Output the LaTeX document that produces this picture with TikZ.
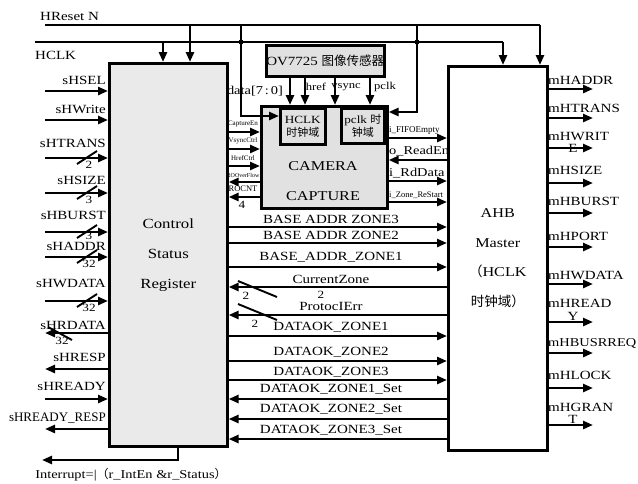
\documentclass[tikz,border=0pt]{standalone}
\usepackage{fontspec}
\setmainfont{Liberation Serif}[FakeStretch=1.2]
\newfontfamily\thinfont{Liberation Serif}
\newfontfamily\cjk{Noto Sans CJK SC}
\usepackage{xcolor}
\usetikzlibrary{arrows.meta}

\definecolor{regfill}{HTML}{EAEAEA}
\definecolor{camfill}{HTML}{E1E1E1}

\begin{document}
\begin{tikzpicture}[
  x=1pt, y=-1pt,
  >={Triangle[length=10pt,width=8pt]},
  wire/.style={line width=2.6pt},
  arr/.style={wire, ->},
  arl/.style={wire, <-},
  blk/.style={draw, line width=2.6pt, inner sep=0pt, anchor=north west},
  sig/.style={font=\fontsize{12.5}{14}\selectfont, inner sep=0pt},
  mini/.style={font=\thinfont\fontsize{7}{8}\selectfont, inner sep=0pt},
  bus/.style={line width=1.9pt},
  wid/.style={font=\fontsize{11}{12}\selectfont, inner sep=0pt},
  jdot/.style={circle, fill, inner sep=0pt, minimum size=5pt}
]
\useasboundingbox (0,0) rectangle (638,483);

% ---- blocks ----
\node[blk, fill=regfill, minimum width=118pt, minimum height=383pt,
      align=center, font=\fontsize{14}{30}\selectfont] (csr) at (108,62)
      {Control\\Status\\Register};
\node[blk, fill=white, minimum width=99pt, minimum height=384pt,
      align=center, font=\fontsize{13.5}{29.5}\selectfont] (ahb) at (447,65)
      {AHB\\Master\\{\cjk （}HCLK\\{\cjk 时钟域）}};
\node[blk, fill=camfill, minimum width=117pt, minimum height=31pt,
      font=\fontsize{12.5}{14}\selectfont] (ov) at (265,44)
      {OV7725 {\cjk 图像传感器}};
\node[blk, fill=camfill, minimum width=126pt, minimum height=102pt] (cam) at (260,105) {};
\node[sig, align=center, font=\fontsize{13.5}{30}\selectfont] (camtxt) at (323,181)
      {CAMERA\\CAPTURE};
\node[blk, fill=camfill, minimum width=45pt, minimum height=36pt,
      align=center, font=\fontsize{11}{13}\selectfont] (hcd) at (279,107)
      {HCLK\\{\cjk 时钟域}};
\node[blk, fill=camfill, minimum width=43pt, minimum height=35pt,
      align=center, font=\fontsize{11}{13}\selectfont] (pcd) at (340,107)
      {pclk {\cjk 时}\\{\cjk 钟域}};

% ---- clock and reset ----
\coordinate (rst)  at (45,25);
\coordinate (clk)  at (35,42);
\coordinate (rstA) at (190,25);
\coordinate (rstB) at (540,25);
\coordinate (rstC) at (241,25);
\coordinate (rstD) at (417,25);
\coordinate (clkA) at (163,42);
\coordinate (clkB) at (503,42);
\node[sig, anchor=base west] (rstlab) at (40,20) {HReset N};
\node[sig, anchor=base west] (clklab) at (35,59) {HCLK};

\draw[wire] (rst) -- (rstB);
\draw[arr] (rstB) -- (rstB |- ahb.north);
\draw[arr] (rstA) -- (rstA |- csr.north);
\draw[wire] (clk) -- (clkB);
\draw[arr] (clkB) -- (clkB |- ahb.north);
\draw[arr] (clkA) -- (clkA |- csr.north);
\draw[arr] (rstC) |- ([yshift=-9pt]hcd.north west);
\draw[arr] (rstD) |- ([yshift=-7pt]cam.north east);
\node[jdot] (jc) at (rstC |- clk) {};
\node[jdot] (jd) at (rstD |- clk) {};

% ---- sensor outputs ----
\foreach \dx [count=\i] in {25,40,70,105} {
  \coordinate (ovp\i) at ([xshift=\dx pt]ov.south west);
  \draw[arr] (ovp\i) -- (ovp\i |- cam.north);
}
\node[sig, font=\fontsize{12}{13}\selectfont] (datalab) at (255,91) {data[7\,:\,0]};
\node[sig, font=\fontsize{10.5}{12}\selectfont] (hreflab) at (316,87) {href};
\node[sig, font=\fontsize{10.5}{12}\selectfont] (vsynclab) at (346,87) {vsync};
\node[sig, font=\fontsize{10.5}{12}\selectfont] (pclklab) at (385,87) {pclk};

% ---- camera capture, register side ----
\foreach \y/\ly/\dir/\txt in {132/124/arr/CaptureEn, 149/141/arr/VsyncCtrl,
    166/158/arr/HrefCtrl, 182/175/arl/{\fontsize{6}{7}\selectfont ROOverFlow},
    197/189/arl/{\fontsize{8.5}{9}\selectfont ROCNT}} {
  \coordinate (cl\y) at (243,\y);
  \draw[\dir] (csr.east |- cl\y) -- (cam.west |- cl\y);
  \node[mini] (cln\y) at (243,\ly) {\txt};
}
\node[wid] (w4) at (242,205) {4};

% ---- camera capture, master side ----
\foreach \y/\ly/\dir/\txt in {138/130/arr/{\thinfont\fontsize{9}{10}\selectfont i\_FIFOEmpty},
    160/151/arl/{\fontsize{12}{13}\selectfont o\_ReadEn},
    181/173/arr/{\fontsize{12}{13}\selectfont i\_RdData},
    202/195/arr/{\thinfont\fontsize{8.5}{10}\selectfont i\_Zone\_ReStart}} {
  \coordinate (cr\y) at (415,\y);
  \draw[\dir] (cam.east |- cr\y) -- (ahb.west |- cr\y);
  \node[sig, anchor=west] (crn\y) at (389,\ly) {\txt};
}

% ---- register to master ----
\foreach \y/\ly/\dir/\txt [count=\i] in {227/219/arr/BASE ADDR ZONE3,
    243/235/arr/BASE ADDR ZONE2, 267/257/arr/BASE\_ADDR\_ZONE1,
    287/279/arl/CurrentZone, 315/306/arl/ProtocIErr,
    336/327/arr/DATAOK\_ZONE1, 361/352/arr/DATAOK\_ZONE2,
    380/372/arr/DATAOK\_ZONE3, 399/389/arl/DATAOK\_ZONE1\_Set,
    419/409/arl/DATAOK\_ZONE2\_Set, 439/430/arl/DATAOK\_ZONE3\_Set} {
  \coordinate (mb\i) at (331,\y);
  \draw[\dir] (csr.east |- mb\i) -- (ahb.west |- mb\i);
  \node[sig] (mbn\i) at (331,\ly) {\txt};
}
\draw[bus] (238,281) -- (277,297);
\draw[bus] (238,304) -- (277,320);
\node[wid] (wcz) at (246,296) {2};
\node[wid] (wcz2) at (321,295) {2};
\node[wid] (wpe) at (255,324) {2};

% ---- slave port ----
\foreach \y/\bw/\dy in {158/2/7, 193/3/7, 232/3/4, 257/32/7, 301/32/7} {
  \node[wid] (bw\y) at (89,{\y+\dy}) {\bw};
}
\foreach \y/\ly/\dir/\txt [count=\i] in {91/84.5/arr/sHSEL, 120/113.5/arr/sHWrite,
    158/147.5/arr/sHTRANS, 193/184.5/arr/sHSIZE, 232/219.5/arr/sHBURST,
    257/250.5/arr/sHADDR, 301/287.5/arr/sHWDATA, 333/329.5/arl/sHRDATA,
    369/361.5/arl/sHRESP, 399/390.5/arr/sHREADY,
    429/421.5/arl/{\thinfont\fontsize{13}{14}\selectfont sHREADY\_RESP}} {
  \coordinate (sp\i) at (45,\y);
  \draw[\dir] (sp\i) -- (csr.west |- sp\i);
  \node[sig, anchor=base east] (spn\i) at (106,\ly) {\txt};
}
\foreach \y in {158, 193, 232, 257, 301}
  \draw[bus] (77,{\y+6}) -- (97,{\y-7});
\draw[bus] (48,327) -- (72,340);
\node[wid] (bwrd) at (62,341) {32};

% ---- master port ----
\foreach \y/\ly/\txt [count=\i] in {89/84.5/mHADDR, 118/112.5/mHTRANS,
    148/140.5/mHWRIT, 183/174.5/mHSIZE, 213/205.5/mHBURST, 247/240.5/mHPORT,
    284/279.5/mHWDATA, 322/307.5/mHREAD,
    353/346.5/{\fontsize{12}{14}\selectfont mHBUSRREQ},
    388/379.5/mHLOCK, 425/411.5/mHGRAN} {
  \coordinate (mp\i) at (593,\y);
  \draw[arr] (ahb.east |- mp\i) -- (mp\i);
  \node[sig, anchor=base west] (mpn\i) at (548,\ly) {\txt};
}
\foreach \y/\txt in {148/E, 316/Y, 419/T}
  \node[sig] (mx\txt) at (573,\y) {\txt};

% ---- interrupt ----
\coordinate (irq) at (42,460);
\draw[arr] ([xshift=70pt]csr.south west) |- (irq);
\node[sig, font=\fontsize{12}{13}\selectfont] (irqlab) at (131,475)
  {Interrupt=|{\cjk （}r\_IntEn \&r\_Status{\cjk ）}};
\end{tikzpicture}
\end{document}
